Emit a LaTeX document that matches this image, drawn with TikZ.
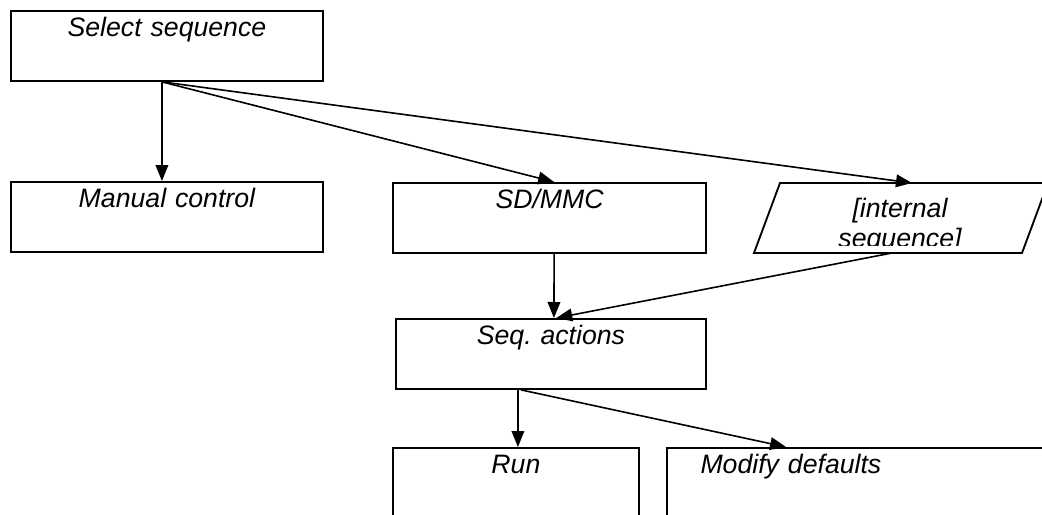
\documentclass[tikz,border=0pt]{standalone}
\usepackage{fontspec}
\setmainfont{Liberation Sans}
\usetikzlibrary{arrows.meta}
\frenchspacing
\tikzset{
	stepbox/.style={draw, line width=1.4pt, rectangle, inner sep=0pt, anchor=north west,
		align=center, text height=19.5pt, text depth=33pt,
		font=\fontsize{20}{22.5}\selectfont\itshape},
	flow/.style={line width=1.2pt, -{Triangle[length=12pt,width=9.5pt]}}
}

\begin{document}
\begin{tikzpicture}[x=0.75pt, y=-0.75pt]
		%%%%% START %%%%%
		\clip (0, 0) rectangle (1042, 514);
		
		\node[stepbox, text width=234pt] (sel) at (10, 10) {Select sequence};
		
		\node[stepbox, text width=234pt] (man) at (10, 181) {Manual control};
		\node[stepbox, text width=235pt] (sd) at (392, 182) {SD/MMC};
		
		\draw[line width=1.4pt] (780, 183) -- (1048, 183) -- (1022, 253) -- (754, 253) -- cycle;
		\coordinate (intin) at (912, 183);
		\coordinate (intout) at (892, 253);
		\begin{scope}
			\clip (754, 185) rectangle (1048, 245);
			\node[anchor=north, inner sep=0pt, align=center,
				font=\fontsize{20}{22.5}\selectfont\itshape] (int) at (900, 198) {[internal\\sequence]};
		\end{scope}
		
		\node[stepbox, text width=232.5pt] (seq) at (395, 318) {Seq. actions};
		
		\node[stepbox, text width=184.5pt] (run) at (392, 447) {Run};
		\node[stepbox, text width=325pt, align=left] (mod) at (666, 447) {\makebox[186pt]{Modify defaults}};
		
		\draw[flow] ([xshift=-3.75pt]sel.south) -- ([xshift=-3.75pt]man.north);
		\draw[flow] ([xshift=-3.75pt]sel.south) -- ([xshift=3.4pt]sd.north);
		\draw[flow] ([xshift=-3.75pt]sel.south) -- (intin);
		
		\draw[flow] ([xshift=3.4pt]sd.south) -- ([xshift=2.25pt]seq.north);
		\draw[flow] (intout) -- ([xshift=4pt]seq.north);
		
		\draw[flow] ([xshift=-24.75pt]seq.south) -- ([xshift=1.5pt]run.north);
		\draw[flow] ([xshift=-22.5pt]seq.south) -- ([xshift=90pt]mod.north west);
		
		%%%%% END %%%%%
	\end{tikzpicture}
\end{document}
